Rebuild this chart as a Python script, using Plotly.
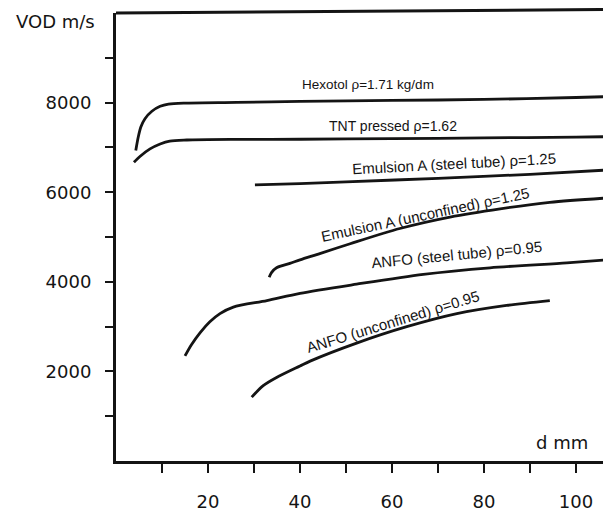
import plotly.graph_objects as go

# ---- data (diameter d in mm, VOD in m/s) ----
hexotol_d = [4.3, 4.85, 5.4, 6.3, 7.8, 9.6, 11.4, 15.4, 26.2, 40, 60, 80, 100, 107.6]
hexotol_v = [6930, 7237, 7456, 7640, 7807, 7917, 7968, 7990, 8004, 8026, 8048, 8070, 8114, 8136]

tnt_d = [3.9, 5.2, 7.4, 9.6, 11.7, 15.4, 26.2, 40, 60, 80, 100, 107.6]
tnt_v = [6667, 6798, 6967, 7077, 7142, 7165, 7178, 7182, 7195, 7212, 7230, 7240]

emul_steel_d = [30.2, 40, 50, 70, 90, 107.6]
emul_steel_v = [6162, 6190, 6230, 6310, 6400, 6500]

emul_unconf_d = [33.3, 33.8, 34.9, 37.8, 40, 44.3, 50.9, 61.7, 72.6, 83.5, 94.3, 107.6]
emul_unconf_v = [4100, 4204, 4313, 4410, 4490, 4630, 4850, 5190, 5445, 5629, 5774, 5877]

anfo_steel_d = [15, 16.4, 18.3, 20.4, 22.6, 25.5, 32.8, 40, 52.3, 66.8, 81.3, 98, 107.6]
anfo_steel_v = [2347, 2595, 2866, 3107, 3290, 3436, 3581, 3743, 3947, 4167, 4313, 4423, 4496]

anfo_unconf_d = [29.5, 32, 34.9, 40, 42.2, 52.3, 63.2, 74.1, 84.9, 94.3]
anfo_unconf_v = [1425, 1682, 1864, 2121, 2230, 2632, 2998, 3290, 3472, 3581]

x_tickvals = [10, 20, 30, 40, 50, 60, 70, 80, 90, 100]
x_ticktext = ["", "20", "", "40", "", "60", "", "80", "", "100"]
y_tickvals = [1000, 2000, 3000, 4000, 5000, 6000, 7000, 8000, 9000]
y_ticktext = ["", "2000", "", "4000", "", "6000", "", "8000", ""]

labels = [
    ("Hexotol ρ=1.71 kg/dm", 54.8, 8400, 0, 13.5),
    ("TNT pressed ρ=1.62", 60.2, 7478, 0, 14),
    ("Emulsion A (steel tube) ρ=1.25", 73.5, 6645, -3, 15),
    ("Emulsion A (unconfined) ρ=1.25", 67.2, 5500, -12, 15),
    ("ANFO (steel tube) ρ=0.95", 74.1, 4600, -5.5, 15),
    ("ANFO (unconfined) ρ=0.95", 60.2, 3114, -17, 15),
]

INK = "#141414"
fig = go.Figure()
for xs, ys in [(hexotol_d, hexotol_v), (tnt_d, tnt_v), (emul_steel_d, emul_steel_v),
               (emul_unconf_d, emul_unconf_v), (anfo_steel_d, anfo_steel_v),
               (anfo_unconf_d, anfo_unconf_v)]:
    fig.add_trace(go.Scatter(x=xs, y=ys, mode="lines",
                             line=dict(color=INK, width=2.8, shape="spline", smoothing=0.8),
                             showlegend=False, hoverinfo="skip"))

for text, x, y, ang, sz in labels:
    fig.add_annotation(x=x, y=y, text=text, showarrow=False, textangle=ang,
                       xanchor="center", yanchor="middle",
                       font=dict(family="Liberation Sans", size=sz, color=INK))

fig.add_annotation(xref="paper", yref="paper", x=-0.123, y=0.980, text="VOD m/s",
                   showarrow=False, xanchor="center", yanchor="middle",
                   font=dict(family="DejaVu Sans", size=18, color=INK))
fig.add_annotation(x=97, y=420, text="d mm", showarrow=False,
                   xanchor="center", yanchor="middle",
                   font=dict(family="DejaVu Sans", size=18, color=INK))

fig.add_shape(type="line", xref="paper", yref="paper", x0=0, x1=1, y0=1, y1=1.008,
              line=dict(color=INK, width=3))

fig.update_xaxes(range=[0, 107.6], tickvals=x_tickvals, ticktext=x_ticktext,
                 ticks="outside", ticklen=9, tickwidth=2, tickcolor=INK,
                 showline=True, linewidth=3, linecolor=INK, showgrid=False, zeroline=False,
                 ticklabelstandoff=13,
                 tickfont=dict(family="DejaVu Sans", size=18, color=INK))
fig.update_yaxes(range=[0, 10000], tickvals=y_tickvals, ticktext=y_ticktext,
                 ticks="outside", ticklen=8, tickwidth=2, tickcolor=INK,
                 showline=True, linewidth=3, linecolor=INK, showgrid=False, zeroline=False,
                 ticklabelstandoff=10,
                 tickfont=dict(family="DejaVu Sans", size=18, color=INK))

# the page body adds an 8px offset, so the figure is sized to end at the window edge
fig.update_layout(width=603, height=504, autosize=False,
                  margin=dict(l=108, r=0, t=5, b=42),
                  paper_bgcolor="white", plot_bgcolor="white")

fig.write_html("out.html")
